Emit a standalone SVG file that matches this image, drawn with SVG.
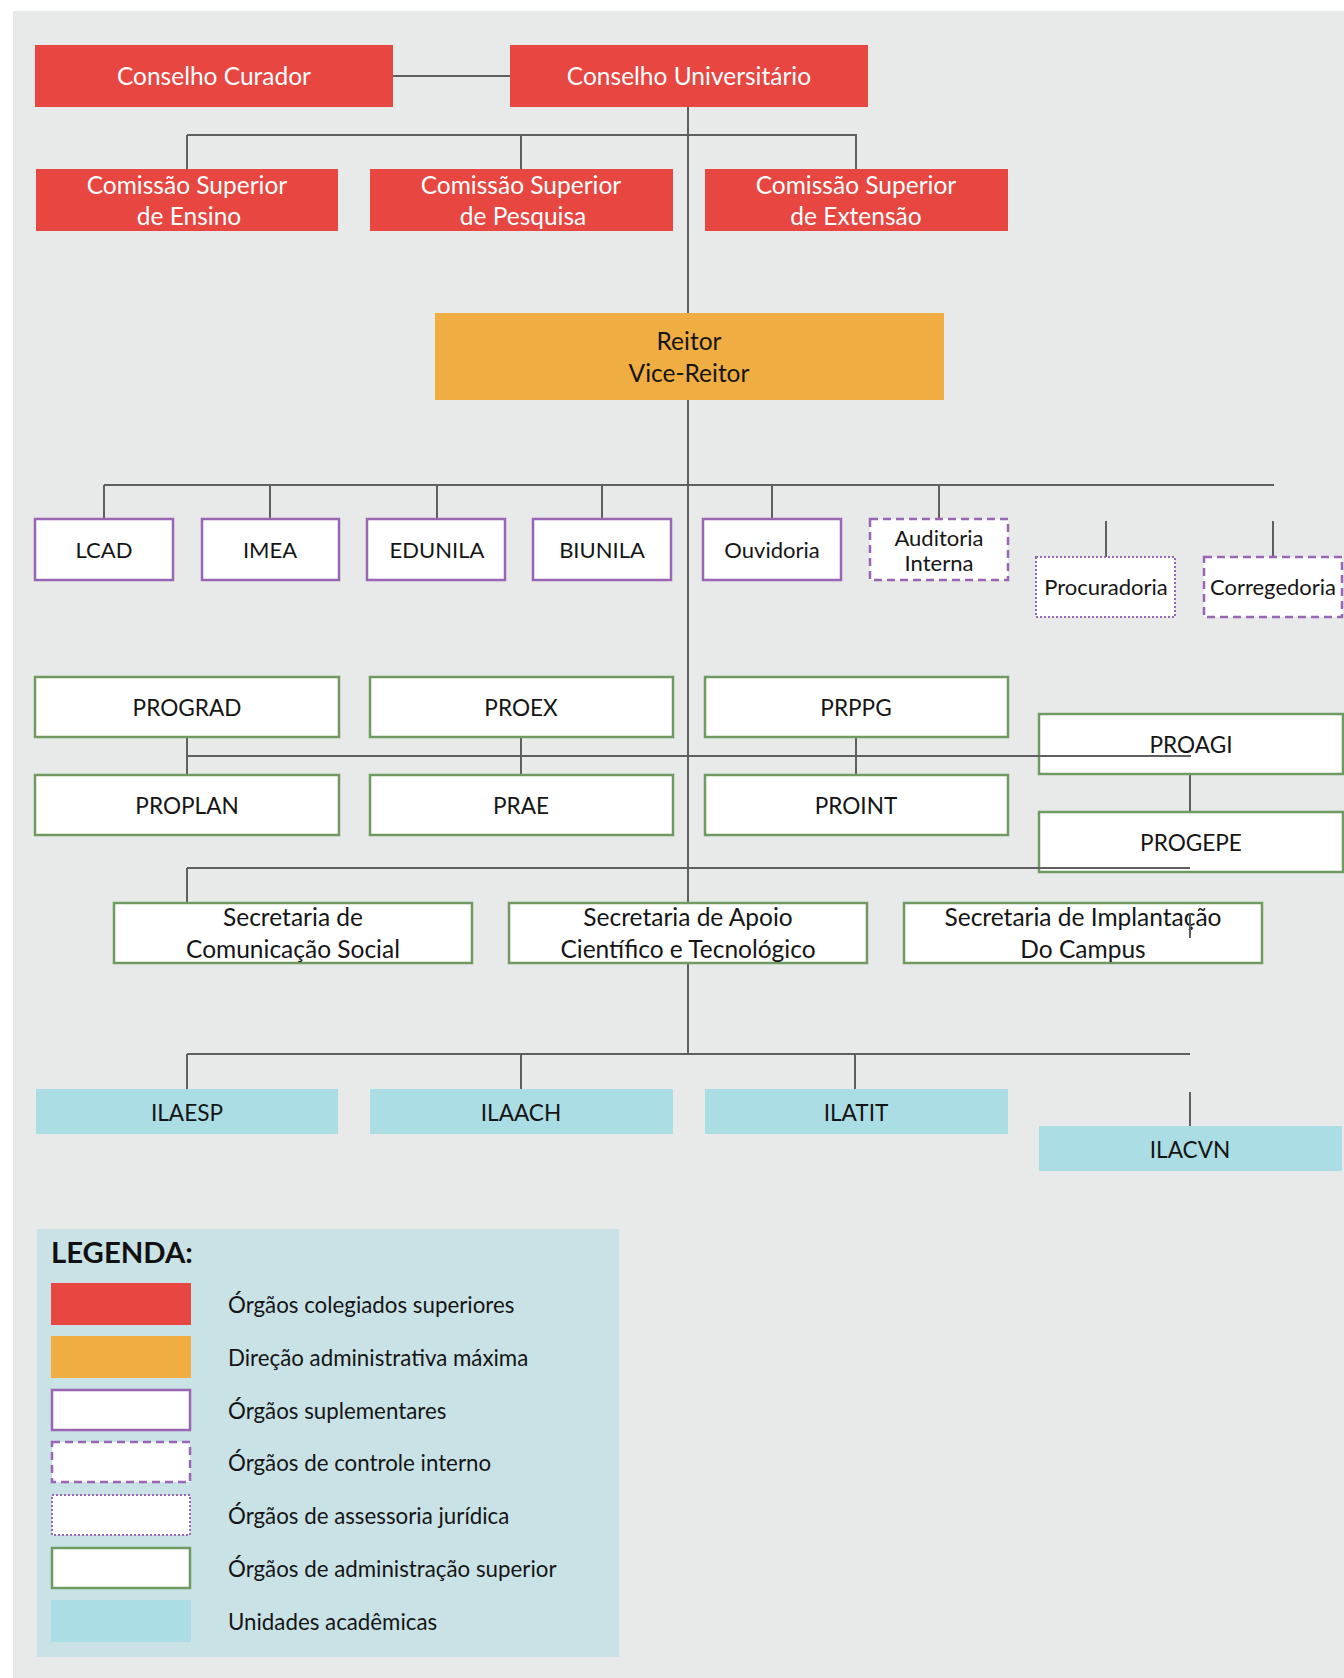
<svg xmlns="http://www.w3.org/2000/svg" width="1344" height="1678" viewBox="0 0 1344 1678">
<style>
.t{font-family:Lato,"Open Sans","Liberation Sans",sans-serif;font-size:22px;text-anchor:middle}
.b{font-size:24.5px}
.m{font-size:22.6px}
.w{fill:#ffffff}
.k{fill:#151515}
.red{fill:#e84641}
.orange{fill:#f0ae42}
.sup{fill:#ffffff;stroke:#9966b3;stroke-width:2.5}
.ctrl{fill:#ffffff;stroke:#9966b3;stroke-width:2.5;stroke-dasharray:8 5}
.jur{fill:#ffffff;stroke:#9966b3;stroke-width:2;stroke-dasharray:2 2}
.adm{fill:#ffffff;stroke:#6f9a62;stroke-width:2.5}
.acad{fill:#abdde4}
.c{stroke:#5f5f5f;stroke-width:2;fill:none}
.lg{font-family:Lato,"Open Sans","Liberation Sans",sans-serif;font-size:22.3px;fill:#151515}
</style>
<rect x="0" y="0" width="1344" height="1678" fill="#ffffff"/>
<rect x="13" y="11" width="1331" height="1667" fill="#e8eaea"/>

<g id="connectors" class="c">
<line x1="393" y1="76" x2="510" y2="76"/>
<line x1="688" y1="107" x2="688" y2="313"/>
<line x1="688" y1="400" x2="688" y2="903"/>
<line x1="688" y1="963" x2="688" y2="1054"/>
<line x1="187" y1="135" x2="857" y2="135"/>
<line x1="187" y1="135" x2="187" y2="169"/>
<line x1="521" y1="135" x2="521" y2="169"/>
<line x1="856" y1="135" x2="856" y2="169"/>
<line x1="104" y1="485" x2="1274" y2="485"/>
<line x1="104" y1="485" x2="104" y2="519"/>
<line x1="270" y1="485" x2="270" y2="519"/>
<line x1="437" y1="485" x2="437" y2="519"/>
<line x1="602" y1="485" x2="602" y2="519"/>
<line x1="772" y1="485" x2="772" y2="519"/>
<line x1="939" y1="485" x2="939" y2="519"/>
<line x1="1106" y1="521" x2="1106" y2="557"/>
<line x1="1273" y1="521" x2="1273" y2="557"/>
<line x1="187" y1="737" x2="187" y2="775"/>
<line x1="521" y1="737" x2="521" y2="775"/>
<line x1="856" y1="737" x2="856" y2="775"/>
<line x1="1190" y1="774" x2="1190" y2="812"/>
<line x1="187" y1="868" x2="187" y2="903"/>
<line x1="521" y1="1054" x2="521" y2="1089"/>
<line x1="855" y1="1054" x2="855" y2="1089"/>
<line x1="187" y1="1054" x2="187" y2="1089"/>
<line x1="1190" y1="1092" x2="1190" y2="1126"/>
</g>

<g id="conselho-curador"><rect class="red" x="35" y="45" width="358" height="62"/><text class="t b w" x="214" y="85">Conselho Curador</text></g>
<g id="conselho-universitario"><rect class="red" x="510" y="45" width="358" height="62"/><text class="t b w" x="689" y="85">Conselho Universitário</text></g>
<g id="cs-ensino"><rect class="red" x="36" y="169" width="302" height="62"/><text class="t b w" x="187" y="194">Comissão Superior</text><text class="t b w" x="189" y="225">de Ensino</text></g>
<g id="cs-pesquisa"><rect class="red" x="370" y="169" width="303" height="62"/><text class="t b w" x="521" y="194">Comissão Superior</text><text class="t b w" x="523" y="225">de Pesquisa</text></g>
<g id="cs-extensao"><rect class="red" x="705" y="169" width="303" height="62"/><text class="t b w" x="856" y="194">Comissão Superior</text><text class="t b w" x="856" y="225">de Extensão</text></g>

<g id="reitor"><rect class="orange" x="435" y="313" width="509" height="87"/><text class="t b k" x="689" y="350">Reitor</text><text class="t b k" x="689" y="382">Vice-Reitor</text></g>

<g id="lcad"><rect class="sup" x="35" y="519" width="138" height="61"/><text class="t k" x="104" y="558">LCAD</text></g>
<g id="imea"><rect class="sup" x="202" y="519" width="137" height="61"/><text class="t k" x="270" y="558">IMEA</text></g>
<g id="edunila"><rect class="sup" x="367" y="519" width="138" height="61"/><text class="t k" x="437" y="558">EDUNILA</text></g>
<g id="biunila"><rect class="sup" x="533" y="519" width="138" height="61"/><text class="t k" x="602" y="558">BIUNILA</text></g>
<g id="ouvidoria"><rect class="sup" x="703" y="519" width="138" height="61"/><text class="t k" x="772" y="558">Ouvidoria</text></g>
<g id="auditoria-interna"><rect class="ctrl" x="870" y="519" width="138" height="61"/><text class="t k" x="939" y="546">Auditoria</text><text class="t k" x="939" y="571">Interna</text></g>
<g id="procuradoria"><rect class="jur" x="1036" y="557" width="139" height="60"/><text class="t k" x="1106" y="595">Procuradoria</text></g>
<g id="corregedoria"><rect class="ctrl" x="1204" y="557" width="138" height="60"/><text class="t k" x="1273" y="595">Corregedoria</text></g>

<g id="prograd"><rect class="adm" x="35" y="677" width="304" height="60"/><text class="t m k" x="187" y="716">PROGRAD</text></g>
<g id="proex"><rect class="adm" x="370" y="677" width="303" height="60"/><text class="t m k" x="521" y="716">PROEX</text></g>
<g id="prppg"><rect class="adm" x="705" y="677" width="303" height="60"/><text class="t m k" x="856" y="716">PRPPG</text></g>
<g id="proagi"><rect class="adm" x="1039" y="714" width="304" height="60"/><text class="t m k" x="1191" y="753">PROAGI</text></g>
<g id="proplan"><rect class="adm" x="35" y="775" width="304" height="60"/><text class="t m k" x="187" y="814">PROPLAN</text></g>
<g id="prae"><rect class="adm" x="370" y="775" width="303" height="60"/><text class="t m k" x="521" y="814">PRAE</text></g>
<g id="proint"><rect class="adm" x="705" y="775" width="303" height="60"/><text class="t m k" x="856" y="814">PROINT</text></g>
<g id="progepe"><rect class="adm" x="1039" y="812" width="304" height="60"/><text class="t m k" x="1191" y="851">PROGEPE</text></g>

<g id="sec-comunicacao"><rect class="adm" x="114" y="903" width="358" height="60"/><text class="t b k" x="293" y="926">Secretaria de</text><text class="t b k" x="293" y="958">Comunicação Social</text></g>
<g id="sec-apoio"><rect class="adm" x="509" y="903" width="358" height="60"/><text class="t b k" x="688" y="926">Secretaria de Apoio</text><text class="t b k" x="688" y="958">Científico e Tecnológico</text></g>
<g id="sec-implantacao"><rect class="adm" x="904" y="903" width="358" height="60"/><text class="t b k" x="1083" y="926">Secretaria de Implantação</text><text class="t b k" x="1083" y="958">Do Campus</text></g>

<g id="ilaesp"><rect class="acad" x="36" y="1089" width="302" height="45"/><text class="t m k" x="187" y="1121">ILAESP</text></g>
<g id="ilaach"><rect class="acad" x="370" y="1089" width="303" height="45"/><text class="t m k" x="521" y="1121">ILAACH</text></g>
<g id="ilatit"><rect class="acad" x="705" y="1089" width="303" height="45"/><text class="t m k" x="856" y="1121">ILATIT</text></g>
<g id="ilacvn"><rect class="acad" x="1039" y="1126" width="303" height="45"/><text class="t m k" x="1190" y="1158">ILACVN</text></g>

<g id="overlay-connectors" class="c">
<line x1="187" y1="756" x2="1191" y2="756"/>
<line x1="187" y1="868" x2="1190" y2="868"/>
<line x1="187" y1="1054" x2="1190" y2="1054"/>
<line x1="1190" y1="913" x2="1190" y2="938"/>
</g>

<g id="legend">
<rect x="37" y="1229" width="582" height="428" fill="#c9e2e6"/>
<text x="51" y="1263" font-family="Lato,'Open Sans','Liberation Sans',sans-serif" font-size="29.3" font-weight="bold" fill="#111">LEGENDA:</text>
<rect class="red" x="51" y="1283" width="140" height="42"/>
<rect class="orange" x="51" y="1336" width="140" height="42"/>
<rect class="sup" x="52" y="1390" width="138" height="40"/>
<rect class="ctrl" x="52" y="1442" width="138" height="40"/>
<rect class="jur" x="52" y="1495" width="138" height="40"/>
<rect class="adm" x="52" y="1548" width="138" height="40"/>
<rect class="acad" x="51" y="1600" width="140" height="42"/>
<text class="lg" x="228" y="1313">Órgãos colegiados superiores</text>
<text class="lg" x="228" y="1366">Direção administrativa máxima</text>
<text class="lg" x="228" y="1419">Órgãos suplementares</text>
<text class="lg" x="228" y="1471">Órgãos de controle interno</text>
<text class="lg" x="228" y="1524">Órgãos de assessoria jurídica</text>
<text class="lg" x="228" y="1577">Órgãos de administração superior</text>
<text class="lg" x="228" y="1630">Unidades acadêmicas</text>
</g>
</svg>
